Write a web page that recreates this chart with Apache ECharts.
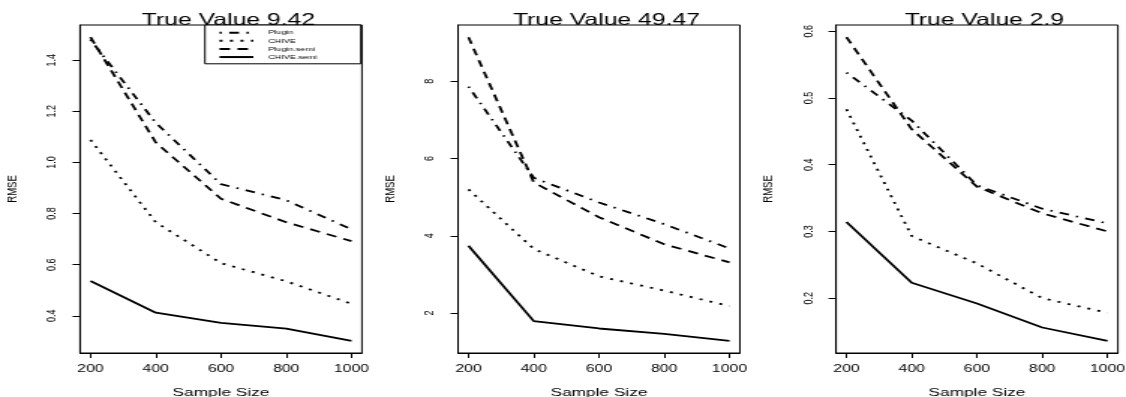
<!DOCTYPE html>
<html>
<head>
<meta charset="utf-8">
<script src="https://cdn.jsdelivr.net/npm/echarts@6/dist/echarts.min.js"></script>
<style>
  html, body { margin: 0; padding: 0; background: #fff; overflow: hidden; }
  /* the reference is a horizontally stretched R plot, so draw narrow and stretch */
  #chart { width: 751px; height: 397px; transform: scaleX(1.4993); transform-origin: 0 0; }
</style>
</head>
<body>
<div id="chart"></div>
<script>
const sizes = [200, 400, 600, 800, 1000];
const xTicks = [200, 400, 600, 800, 1000];
const seriesNames = ['Plugin', 'CHIVE', 'Plugin.semi', 'CHIVE.semi'];
const titles = ['True Value 9.42', 'True Value 49.47', 'True Value 2.9'];

// panel 1
const plugin1 = [1.48, 1.155, 0.915, 0.852, 0.738];
const chive1 = [1.088, 0.766, 0.606, 0.535, 0.447];
const pluginSemi1 = [1.49, 1.078, 0.858, 0.766, 0.692];
const chiveSemi1 = [0.536, 0.412, 0.372, 0.35, 0.302];
const yTicks1 = [0.4, 0.6, 0.8, 1.0, 1.2, 1.4];

// panel 2
const plugin2 = [7.86, 5.5, 4.86, 4.3, 3.67];
const chive2 = [5.2, 3.66, 2.95, 2.58, 2.18];
const pluginSemi2 = [9.14, 5.38, 4.48, 3.78, 3.31];
const chiveSemi2 = [3.74, 1.79, 1.6, 1.46, 1.28];
const yTicks2 = [2, 4, 6, 8];

// panel 3
const plugin3 = [0.538, 0.466, 0.369, 0.334, 0.312];
const chive3 = [0.483, 0.293, 0.252, 0.2, 0.178];
const pluginSemi3 = [0.591, 0.453, 0.367, 0.327, 0.3];
const chiveSemi3 = [0.314, 0.223, 0.192, 0.156, 0.136];
const yTicks3 = [0.2, 0.3, 0.4, 0.5, 0.6];

const panels = [
  { lines: [plugin1, chive1, pluginSemi1, chiveSemi1], ticks: yTicks1, digits: 1 },
  { lines: [plugin2, chive2, pluginSemi2, chiveSemi2], ticks: yTicks2, digits: 0 },
  { lines: [plugin3, chive3, pluginSemi3, chiveSemi3], ticks: yTicks3, digits: 1 },
];

const FONT = 'Liberation Sans';
const dashes = [[1.5, 5, 6.5, 5], [2, 5], [7, 5], 'solid'];
const gridLefts = [53.4, 305.5, 557.6];
const gridWidth = 188;

// R pads the data range by 4% on each side
function padRange(vals) {
  const lo = Math.min(...vals), hi = Math.max(...vals);
  const d = (hi - lo) * 0.04;
  return [lo - d, hi + d];
}

const grids = [], xAxes = [], yAxes = [], series = [], titleOpts = [];
panels.forEach((p, i) => {
  grids.push({
    left: gridLefts[i], top: 25, width: gridWidth, height: 328,
    outerBoundsMode: 'none',
    show: true, borderColor: '#000', borderWidth: 1, backgroundColor: 'transparent',
  });
  const xr = padRange(sizes);
  const yr = padRange(p.lines.flat());
  xAxes.push({
    gridIndex: i, type: 'value', min: xr[0], max: xr[1],
    name: 'Sample Size', nameLocation: 'middle', nameGap: 34,
    nameTextStyle: { fontFamily: FONT, fontSize: 11.5, color: '#000' },
    axisLine: { show: true, lineStyle: { color: '#000', width: 1 } },
    axisTick: { show: true, inside: false, length: 5, customValues: xTicks, lineStyle: { color: '#000' } },
    axisLabel: {
      customValues: xTicks, margin: 11, fontFamily: FONT, fontSize: 10.5, color: '#000',
      formatter: v => String(v),
    },
    splitLine: { show: false },
  });
  yAxes.push({
    gridIndex: i, type: 'value', min: yr[0], max: yr[1],
    name: 'RMSE', nameLocation: 'middle', nameGap: 40,
    nameTextStyle: { fontFamily: FONT, fontSize: 9.5, color: '#000' },
    axisLine: { show: true, lineStyle: { color: '#000', width: 1 } },
    axisTick: { show: true, inside: false, length: 5, customValues: p.ticks, lineStyle: { color: '#000' } },
    axisLabel: {
      customValues: p.ticks, rotate: 90, margin: 14, fontFamily: FONT, fontSize: 9, color: '#000',
      formatter: v => Number(v).toFixed(p.digits),
    },
    splitLine: { show: false },
  });
  titleOpts.push({
    text: titles[i], left: gridLefts[i] + gridWidth / 2, top: 7, textAlign: 'center',
    textStyle: { fontFamily: FONT, fontSize: 16.5, fontWeight: 'normal', color: '#000' },
  });
  p.lines.forEach((vals, k) => {
    series.push({
      name: seriesNames[k], type: 'line', xAxisIndex: i, yAxisIndex: i,
      data: sizes.map((s, j) => [s, vals[j]]),
      symbol: 'none', silent: true, animation: false,
      lineStyle: { color: '#000', width: 1.8, type: dashes[k] },
      itemStyle: { color: '#000' },
    });
  });
});

const chart = echarts.init(document.getElementById('chart'), null, { renderer: 'canvas' });
chart.setOption({
  backgroundColor: '#fff',
  animation: false,
  title: titleOpts,
  grid: grids,
  xAxis: xAxes,
  yAxis: yAxes,
  legend: {
    data: seriesNames, orient: 'vertical', left: 136.7, top: 25,
    itemWidth: 22.6, itemHeight: 7, itemGap: 0.6, padding: [4, 29, 3, 8.7],
    borderColor: '#000', borderWidth: 1, backgroundColor: '#fff',
    selectedMode: false,
    itemStyle: { opacity: 0 },
    textStyle: { fontFamily: FONT, fontSize: 6, color: '#000', lineHeight: 7.5, padding: [0, 0, 0, 5] },
  },
  series: series,
});
</script>
</body>
</html>
